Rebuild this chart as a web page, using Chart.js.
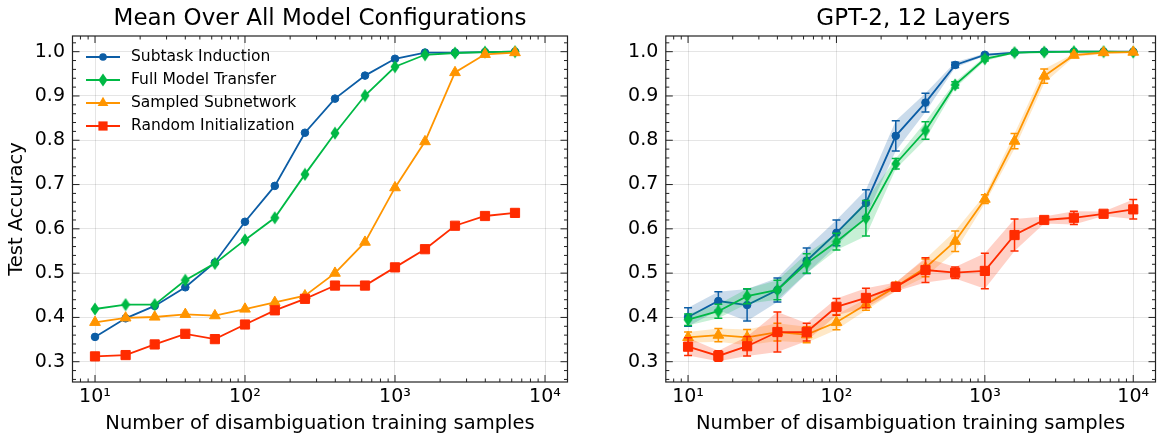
<!DOCTYPE html>
<html>
<head>
<meta charset="utf-8">
<script src="https://cdn.jsdelivr.net/npm/chart.js@4.4.1/dist/chart.umd.min.js"></script>
<style>
  html, body { margin: 0; padding: 0; background: #fff; overflow: hidden; }
  body { width: 1159px; height: 436px; position: relative; font-family: "DejaVu Sans", sans-serif; color: #000; }
  .panel { position: absolute; top: 0; height: 436px; }
  .title { position: absolute; top: 5.5px; font-size: 23px; line-height: 1; white-space: nowrap; transform: translateX(-50%); }
  .legend { position: absolute; left: 86px; top: 45px; }
  .legend .row { display: flex; align-items: center; height: 23px; line-height: 23px; font-size: 15.5px; white-space: nowrap; }
  .legend canvas { width: 34px; height: 20px; margin-right: 11px; }
</style>
</head>
<body>
<div class="panel" style="left:0; width:580px;"><canvas id="meanChart"></canvas></div>
<div class="panel" style="left:580px; width:583px;"><canvas id="gptChart"></canvas></div>
<div class="title" style="left:320px;">Mean Over All Model Configurations</div>
<div class="title" style="left:913.3px;">GPT-2, 12 Layers</div>
<div class="legend" id="legend"></div>

<script>
// Donnees
const seriesNames = ['Subtask Induction', 'Full Model Transfer', 'Sampled Subnetwork', 'Random Initialization'];
const seriesColors = ['#0C5DA5', '#00B945', '#FF9500', '#FF2C00'];
const bandColors = ['rgba(12,93,165,0.22)', 'rgba(0,185,69,0.22)', 'rgba(255,149,0,0.22)', 'rgba(255,44,0,0.22)'];

const meanSamples = [10, 16, 25, 40, 63, 100, 158, 251, 398, 631, 1000, 1585, 2512, 3981, 6310];
const gptSamples = [10, 16, 25, 40, 63, 100, 158, 251, 398, 631, 1000, 1585, 2512, 3981, 6310, 10000];

// Moyenne sur toutes les configurations
const meanSubtask = [0.356, 0.398, 0.426, 0.468, 0.524, 0.616, 0.697, 0.817, 0.894, 0.946, 0.984, 0.998, 0.998, 0.999, 1.0];
const meanFull    = [0.419, 0.429, 0.429, 0.484, 0.522, 0.575, 0.625, 0.723, 0.816, 0.901, 0.966, 0.993, 0.997, 0.999, 1.0];
const meanSampled = [0.389, 0.399, 0.401, 0.407, 0.404, 0.419, 0.434, 0.449, 0.500, 0.570, 0.693, 0.797, 0.953, 0.994, 0.998];
const meanRandom  = [0.312, 0.315, 0.339, 0.363, 0.351, 0.384, 0.416, 0.442, 0.472, 0.472, 0.513, 0.554, 0.607, 0.629, 0.636];

// GPT-2, 12 couches (moyenne et ecart)
const gptSubtask    = [0.401, 0.437, 0.428, 0.462, 0.528, 0.591, 0.658, 0.810, 0.885, 0.970, 0.993, 0.998, 1.0, 1.0, 1.0, 1.0];
const gptSubtaskErr = [0.021, 0.021, 0.036, 0.027, 0.029, 0.029, 0.030, 0.034, 0.021, 0.006, 0.003, 0.002, 0.001, 0.001, 0.001, 0.001];
const gptFull       = [0.395, 0.414, 0.448, 0.462, 0.522, 0.571, 0.624, 0.747, 0.822, 0.925, 0.984, 0.998, 0.999, 1.0, 1.0, 0.999];
const gptFullErr    = [0.013, 0.016, 0.017, 0.022, 0.022, 0.019, 0.040, 0.012, 0.020, 0.007, 0.005, 0.002, 0.001, 0.001, 0.001, 0.001];
const gptSampled    = [0.355, 0.360, 0.355, 0.367, 0.361, 0.389, 0.429, 0.469, 0.512, 0.572, 0.667, 0.798, 0.945, 0.992, 0.998, 0.999];
const gptSampledErr = [0.012, 0.015, 0.018, 0.020, 0.018, 0.017, 0.013, 0.010, 0.020, 0.023, 0.010, 0.017, 0.016, 0.004, 0.003, 0.002];
const gptRandom     = [0.334, 0.313, 0.335, 0.367, 0.367, 0.424, 0.444, 0.469, 0.507, 0.501, 0.505, 0.586, 0.620, 0.625, 0.634, 0.644];
const gptRandomErr  = [0.020, 0.012, 0.022, 0.045, 0.020, 0.019, 0.022, 0.010, 0.028, 0.013, 0.040, 0.036, 0.008, 0.015, 0.005, 0.022];

// Axes
const xMajorTicks = [10, 100, 1000, 10000];
const xTickLabels = ['10¹', '10²', '10³', '10⁴'];
const yMajorTicks = [0.3, 0.4, 0.5, 0.6, 0.7, 0.8, 0.9, 1.0];
const xMin = Math.pow(10, 0.85), xMax = Math.pow(10, 4.15);
const yMin = 0.2542, yMax = 1.0354;
const xAxisTitle = 'Number of disambiguation training samples';
const yAxisTitle = 'Test Accuracy';

Chart.defaults.font.family = "'DejaVu Sans', sans-serif";
Chart.defaults.color = '#000';

// marqueur losange fin (style 'd' de matplotlib)
function thinDiamond(color) {
  const c = document.createElement('canvas');
  c.width = 10; c.height = 14;
  const g = c.getContext('2d');
  g.fillStyle = color;
  g.beginPath();
  g.moveTo(5, 0.5); g.lineTo(9.5, 7); g.lineTo(5, 13.5); g.lineTo(0.5, 7);
  g.closePath(); g.fill();
  return c;
}
const markerStyles = ['circle', thinDiamond(seriesColors[1]), 'triangle', 'rect'];
const markerRadius = [3.8, 6, 6.2, 6.5];

// barres d'erreur, dessinees sous la ligne de chaque serie
const errorBars = {
  id: 'errorBars',
  beforeDatasetDraw(chart, args) {
    const ds = chart.data.datasets[args.index];
    if (!ds.errors) return;
    const yScale = chart.scales.y;
    const ctx = chart.ctx;
    ctx.save();
    ctx.strokeStyle = ds.borderColor;
    ctx.lineWidth = 1.5;
    args.meta.data.forEach((pt, i) => {
      const top = yScale.getPixelForValue(ds.data[i].y + ds.errors[i]);
      const bot = yScale.getPixelForValue(ds.data[i].y - ds.errors[i]);
      ctx.beginPath();
      ctx.moveTo(pt.x, top); ctx.lineTo(pt.x, bot);
      ctx.moveTo(pt.x - 4, top); ctx.lineTo(pt.x + 4, top);
      ctx.moveTo(pt.x - 4, bot); ctx.lineTo(pt.x + 4, bot);
      ctx.stroke();
    });
    ctx.restore();
  }
};

// cadre + graduations vers l'interieur (style science)
const frameTicks = {
  id: 'frameTicks',
  afterDraw(chart) {
    const { ctx, chartArea: a, scales: { x, y } } = chart;
    ctx.save();
    ctx.strokeStyle = '#222';
    ctx.lineWidth = 1.2;
    ctx.strokeRect(a.left, a.top, a.right - a.left, a.bottom - a.top);
    ctx.lineWidth = 1;
    ctx.beginPath();
    const yTick = (v, len) => {
      const p = y.getPixelForValue(v);
      ctx.moveTo(a.left, p); ctx.lineTo(a.left + len, p);
      ctx.moveTo(a.right, p); ctx.lineTo(a.right - len, p);
    };
    const xTick = (v, len) => {
      const p = x.getPixelForValue(v);
      ctx.moveTo(p, a.bottom); ctx.lineTo(p, a.bottom - len);
      ctx.moveTo(p, a.top); ctx.lineTo(p, a.top + len);
    };
    yMajorTicks.forEach(v => yTick(v, 7));
    for (let v = 0.26; v < yMax; v += 0.02) {
      const r = Math.round(v * 100) / 100;
      if (Math.round(r * 100) % 10 !== 0) yTick(r, 3.5);
    }
    xMajorTicks.forEach(v => xTick(v, 7));
    for (let e = 0; e <= 4; e++) {
      for (let m = 2; m <= 9; m++) {
        const v = m * Math.pow(10, e);
        if (v > xMin && v < xMax) xTick(v, 3.5);
      }
    }
    ctx.stroke();
    ctx.restore();
  }
};

function buildChart(id, xs, series, yAxisWidth, padRight, showYTitle) {
  const datasets = [];
  series.forEach((s, k) => {
    const order = 4 - k;
    if (s.err) {
      datasets.push({ data: xs.map((x, i) => ({ x, y: s.y[i] + s.err[i] })), borderWidth: 0,
        borderColor: 'transparent', pointRadius: 0, fill: false, order: order + 0.5 });
      datasets.push({ data: xs.map((x, i) => ({ x, y: s.y[i] - s.err[i] })), borderWidth: 0,
        borderColor: 'transparent', pointRadius: 0, fill: '-1', backgroundColor: bandColors[k], order: order + 0.5 });
    }
    datasets.push({
      label: seriesNames[k],
      data: xs.map((x, i) => ({ x, y: s.y[i] })),
      borderColor: seriesColors[k],
      backgroundColor: seriesColors[k],
      borderWidth: 1.8,
      pointStyle: markerStyles[k],
      pointRadius: markerRadius[k],
      pointBorderWidth: 1,
      tension: 0,
      fill: false,
      errors: s.err,
      order
    });
  });

  return new Chart(document.getElementById(id), {
    type: 'line',
    data: { datasets },
    options: {
      responsive: true,
      maintainAspectRatio: false,
      animation: false,
      devicePixelRatio: 1,
      events: [],
      layout: { padding: { top: 36, right: padRight, left: 0, bottom: 0 } },
      plugins: { legend: { display: false }, tooltip: { enabled: false }, title: { display: false } },
      scales: {
        x: {
          type: 'logarithmic',
          min: xMin, max: xMax,
          afterBuildTicks: sc => { sc.ticks = xMajorTicks.map(v => ({ value: v })); },
          ticks: { autoSkip: false, maxRotation: 0, padding: 4, font: { size: 19 }, color: '#000',
            callback: (v, i) => xTickLabels[i] },
          grid: { color: 'rgba(0,0,0,0.1)', lineWidth: 1, drawTicks: false },
          border: { display: false },
          title: { display: true, text: xAxisTitle, font: { size: 19.5 }, color: '#000', padding: { top: 0, bottom: 0 } },
          afterFit: sc => { sc.height = 54; }
        },
        y: {
          type: 'linear',
          min: yMin, max: yMax,
          afterBuildTicks: sc => { sc.ticks = yMajorTicks.map(v => ({ value: v })); },
          ticks: { padding: 7.5, font: { size: 19 }, color: '#000', callback: v => v.toFixed(1) },
          grid: { color: 'rgba(0,0,0,0.1)', lineWidth: 1, drawTicks: false },
          border: { display: false },
          title: { display: showYTitle, text: yAxisTitle, font: { size: 19.5 }, color: '#000', padding: { top: 5, bottom: 0 } },
          afterFit: sc => { sc.width = yAxisWidth; }
        }
      }
    },
    plugins: [errorBars, frameTicks]
  });
}

buildChart('meanChart', meanSamples, [
  { y: meanSubtask }, { y: meanFull }, { y: meanSampled }, { y: meanRandom }
], 72.5, 12.5, true);

buildChart('gptChart', gptSamples, [
  { y: gptSubtask, err: gptSubtaskErr }, { y: gptFull, err: gptFullErr },
  { y: gptSampled, err: gptSampledErr }, { y: gptRandom, err: gptRandomErr }
], 85.8, 2.2, false);

// legende (ligne + marqueur)
const legend = document.getElementById('legend');
seriesNames.forEach((name, k) => {
  const row = document.createElement('div');
  row.className = 'row';
  const c = document.createElement('canvas');
  c.width = 34; c.height = 20;
  const g = c.getContext('2d');
  g.strokeStyle = seriesColors[k]; g.fillStyle = seriesColors[k]; g.lineWidth = 1.8;
  g.beginPath(); g.moveTo(0, 10); g.lineTo(34, 10); g.stroke();
  const cx = 17, cy = 10, r = markerRadius[k];
  g.beginPath();
  if (k === 0) { g.arc(cx, cy, r, 0, Math.PI * 2); g.fill(); }
  else if (k === 1) { g.drawImage(markerStyles[1], cx - 5, cy - 7); }
  else if (k === 2) {
    g.moveTo(cx, cy - r); g.lineTo(cx + r * 0.866, cy + r / 2); g.lineTo(cx - r * 0.866, cy + r / 2);
    g.closePath(); g.fill();
  } else { const h = r * Math.SQRT1_2; g.fillRect(cx - h, cy - h, 2 * h, 2 * h); }
  const label = document.createElement('span');
  label.textContent = name;
  row.appendChild(c); row.appendChild(label);
  legend.appendChild(row);
});
</script>
</body>
</html>
